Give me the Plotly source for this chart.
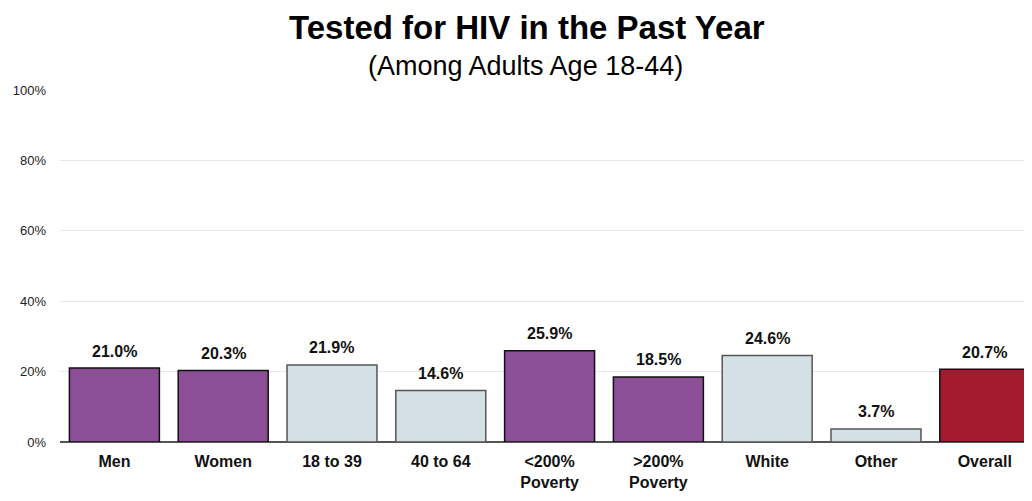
import plotly.graph_objects as go

categories = ["Men", "Women", "18 to 39", "40 to 64", "<200%<br>Poverty", ">200%<br>Poverty", "White", "Other", "Overall"]
values = [21.0, 20.3, 21.9, 14.6, 25.9, 18.5, 24.6, 3.7, 20.7]
groups = ["purple", "purple", "blue", "blue", "purple", "purple", "blue", "blue", "red"]
value_labels = ["21.0%", "20.3%", "21.9%", "14.6%", "25.9%", "18.5%", "24.6%", "3.7%", "20.7%"]
y_ticks = [0, 20, 40, 60, 80, 100]
y_tick_labels = ["0%", "20%", "40%", "60%", "80%", "100%"]

fill_map = {"purple": "#8B4E97", "blue": "#D3E0E6", "red": "#A31A2F"}
line_map = {"purple": "#111111", "blue": "#555555", "red": "#111111"}

FONT = "Liberation Sans Narrow, Arial Narrow, Liberation Sans, Arial, sans-serif"

fig = go.Figure()
fig.add_trace(go.Bar(
    x=list(range(len(categories))),
    y=values,
    marker=dict(
        color=[fill_map[g] for g in groups],
        line=dict(color=[line_map[g] for g in groups], width=1.5),
    ),
    hoverinfo="skip",
))

for i, (v, lab) in enumerate(zip(values, value_labels)):
    fig.add_annotation(
        x=i, y=v, xref="x", yref="y", text="<b>" + lab + "</b>",
        showarrow=False, yshift=17,
        font=dict(family=FONT, size=16, color="#111111"),
    )

PH = 352.0
fig.add_annotation(
    x=(527 - 60) / 972.0, y=(442 - 8) / PH, xref="paper", yref="paper",
    text="<b>Tested for HIV in the Past Year</b>", showarrow=False,
    font=dict(family="Liberation Sans, Arial, sans-serif", size=33, color="#000000"),
    xanchor="center", yanchor="top", borderpad=0,
)
fig.add_annotation(
    x=(525 - 60) / 972.0, y=(442 - 66) / PH, xref="paper", yref="paper",
    text="(Among Adults Age 18-44)", showarrow=False,
    font=dict(family="Liberation Sans, Arial, sans-serif", size=27, color="#000000"),
    xanchor="center", yanchor="middle",
)

# page body has an 8px default margin, so the figure is sized to fill the rest of the window
fig.update_layout(
    width=1024, height=493,
    margin=dict(l=52, r=0, t=82, b=59, autoexpand=False),
    paper_bgcolor="white", plot_bgcolor="white",
    bargap=0.173,
    showlegend=False,
    font=dict(family=FONT, color="#111111"),
)
fig.update_xaxes(
    tickmode="array",
    tickvals=list(range(len(categories))),
    ticktext=["<b>" + c + "</b>" for c in categories],
    range=[-0.5, 8.434],
    tickfont=dict(family=FONT, size=16, color="#111111"),
    showgrid=False, ticks="", ticklabelstandoff=8,
    showline=False, zeroline=False, automargin=False,
)
fig.update_yaxes(
    range=[0, 100],
    tickmode="array", tickvals=y_ticks, ticktext=y_tick_labels,
    tickfont=dict(family=FONT, size=13, color="#222222"),
    showgrid=True, gridcolor="#e8e8e8", gridwidth=1,
    zeroline=True, zerolinecolor="#555555", zerolinewidth=1.5,
    ticks="", ticklabelstandoff=13,
    showline=False, automargin=False,
)

fig.write_html("out.html")
